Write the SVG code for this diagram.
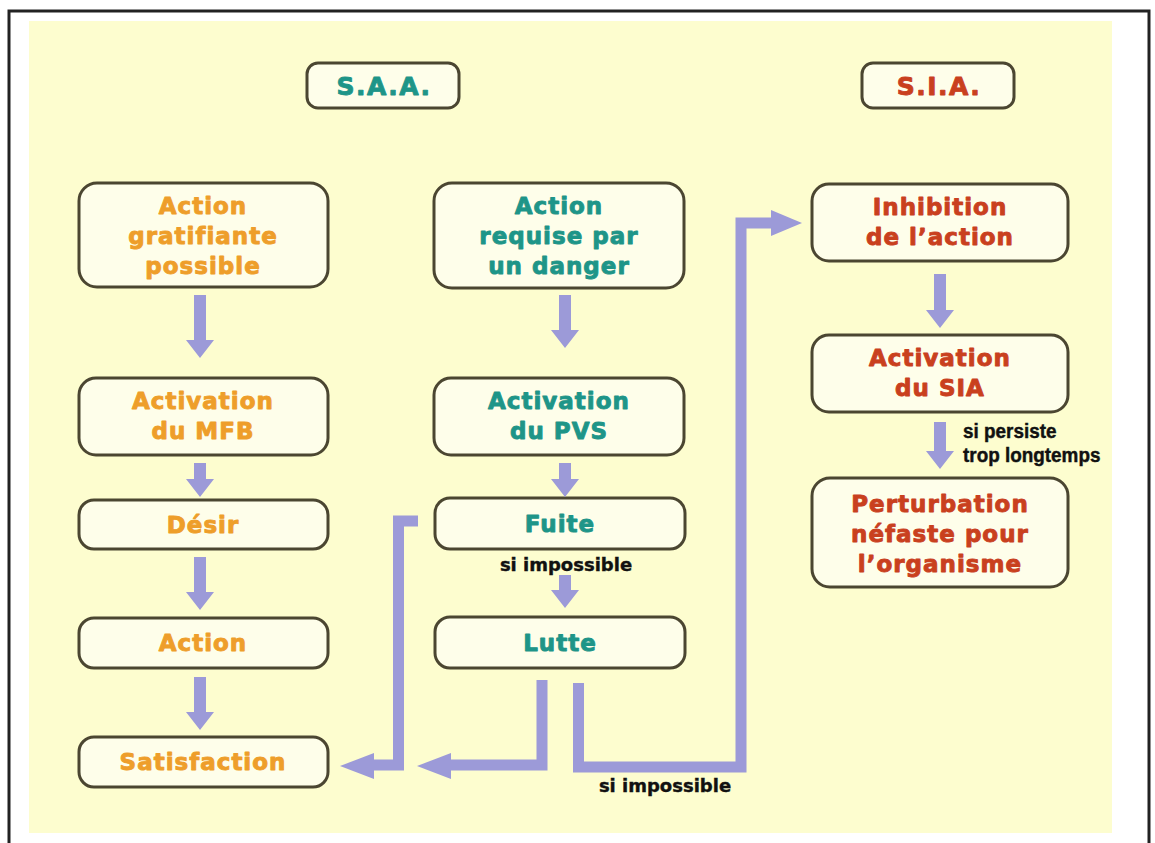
<svg xmlns="http://www.w3.org/2000/svg" width="1155" height="843" viewBox="0 0 1155 843">
<style>
.bg{fill:#FDFDCF}
.frame{fill:none;stroke:#222;stroke-width:3}
.box{fill:#FEFEEA;stroke:#4B4631;stroke-width:3}
.t{font-family:"DejaVu Sans","Liberation Sans",sans-serif;font-weight:bold;font-size:23px;text-anchor:middle;letter-spacing:1px;stroke-width:0.9px;stroke-linejoin:round}
.o{fill:#EE9E2A;stroke:#EE9E2A}
.g{fill:#1E9588;stroke:#1E9588}
.r{fill:#C9401E;stroke:#C9401E}
.hd{font-size:25px;letter-spacing:1.5px}
.lbl{font-family:"DejaVu Sans","Liberation Sans",sans-serif;font-weight:bold;font-size:18px;fill:#111;stroke:#111;stroke-width:0.4px;text-anchor:middle}
.lbn{font-family:"Liberation Sans Narrow","Liberation Sans",sans-serif;font-weight:bold;font-size:18px;fill:#111;stroke:#111;stroke-width:0.4px}
.ar{fill:#9C9AD8}
.ln{fill:none;stroke:#9C9AD8;stroke-width:11;stroke-linejoin:miter}
</style>
<rect class="bg" x="29" y="21" width="1083" height="812"/>
<path class="frame" d="M9,843 V11 H1149 V843"/>

<g id="saa"><rect class="box" x="307" y="63" width="152" height="45" rx="11"/><text class="t g hd" x="384" y="95">S.A.A.</text></g>
<g id="sia"><rect class="box" x="862" y="63" width="152" height="45" rx="11"/><text class="t r hd" x="939" y="95">S.I.A.</text></g>

<g id="n1"><rect class="box" x="79" y="183" width="249" height="104" rx="18"/><text class="t o" x="203" y="214">Action</text><text class="t o" x="203" y="244">gratifiante</text><text class="t o" x="203" y="274">possible</text></g>
<g id="n2"><rect class="box" x="79" y="378" width="249" height="77" rx="17"/><text class="t o" x="203" y="409">Activation</text><text class="t o" x="203" y="439">du MFB</text></g>
<g id="n3"><rect class="box" x="79" y="500" width="249" height="49" rx="15"/><text class="t o" x="203" y="533">Désir</text></g>
<g id="n4"><rect class="box" x="79" y="618" width="249" height="50" rx="15"/><text class="t o" x="203" y="651">Action</text></g>
<g id="n5"><rect class="box" x="79" y="737" width="249" height="50" rx="15"/><text class="t o" x="203" y="770">Satisfaction</text></g>

<g id="m1"><rect class="box" x="434" y="183" width="250" height="105" rx="18"/><text class="t g" x="559" y="214">Action</text><text class="t g" x="559" y="244">requise par</text><text class="t g" x="559" y="274">un danger</text></g>
<g id="m2"><rect class="box" x="434" y="378" width="250" height="77" rx="17"/><text class="t g" x="559" y="409">Activation</text><text class="t g" x="559" y="439">du PVS</text></g>
<g id="m3"><rect class="box" x="435" y="498" width="250" height="51" rx="15"/><text class="t g" x="560" y="532">Fuite</text></g>
<g id="m4"><rect class="box" x="435" y="617" width="250" height="51" rx="15"/><text class="t g" x="560" y="651">Lutte</text></g>

<g id="r1"><rect class="box" x="812" y="184" width="256" height="77" rx="17"/><text class="t r" x="940" y="215">Inhibition</text><text class="t r" x="940" y="245">de l’action</text></g>
<g id="r2"><rect class="box" x="812" y="335" width="256" height="77" rx="17"/><text class="t r" x="940" y="366">Activation</text><text class="t r" x="940" y="396">du SIA</text></g>
<g id="r3"><rect class="box" x="812" y="478" width="256" height="109" rx="18"/><text class="t r" x="940" y="512">Perturbation</text><text class="t r" x="940" y="542">néfaste pour</text><text class="t r" x="940" y="572">l’organisme</text></g>

<g id="connectors">
<polygon class="ar" points="194,295 206,295 206,340 214,340 200,358 186,340 194,340"/>
<polygon class="ar" points="194,463 206,463 206,479 214,479 200,497 186,479 194,479"/>
<polygon class="ar" points="194,557 206,557 206,592 214,592 200,610 186,592 194,592"/>
<polygon class="ar" points="194,677 206,677 206,712 214,712 200,730 186,712 194,712"/>
<polygon class="ar" points="559,295 571,295 571,330 579,330 565,348 551,330 559,330"/>
<polygon class="ar" points="559,463 571,463 571,479 579,479 565,497 551,479 559,479"/>
<polygon class="ar" points="559,575 571,575 571,590 579,590 565,608 551,590 559,590"/>
<polygon class="ar" points="934,274 946,274 946,310 954,310 940,328 926,310 934,310"/>
<polygon class="ar" points="934,422 946,422 946,451 954,451 940,469 926,451 934,451"/>
<path class="ln" d="M418,521 H398.5 V765 H368"/>
<polygon class="ar" points="374,753 340,766 374,779"/>
<path class="ln" d="M542,680 V765 H446"/>
<polygon class="ar" points="451,753 417,766 451,779"/>
<path class="ln" d="M578.5,683 V767 H741 V223 H774"/>
<polygon class="ar" points="771,210 802,223 771,236"/>
<text class="lbl" x="566" y="571">si impossible</text>
<text class="lbl" x="665" y="792">si impossible</text>
<text class="lbn" transform="translate(963,438) scale(1.05,1.08)">si persiste</text>
<text class="lbn" transform="translate(963,462) scale(1.05,1.08)">trop longtemps</text>
</g>
</svg>
